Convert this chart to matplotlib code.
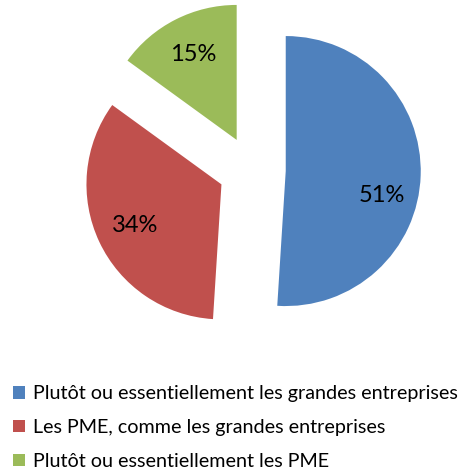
import matplotlib.pyplot as plt

labels = ['Plutôt ou essentiellement les grandes entreprises',
          'Les PME, comme les grandes entreprises',
          'Plutôt ou essentiellement les PME']
values = [51, 34, 15]
colors = ['#4F81BD', '#C0504D', '#9BBB59']

plt.rcParams['font.family'] = ['Lato', 'DejaVu Sans']

W, H = 462, 470
R = 135.0          # pie radius in px
CX, CY = 252, 170  # pie centre in px (from top-left)

fig = plt.figure(figsize=(W / 100, H / 100), dpi=100)
ax = fig.add_axes([0, 0, 1, 1])
wedges, texts, autotexts = ax.pie(values, colors=colors, startangle=90, counterclock=False,
                                  explode=[0.25] * 3, radius=1, pctdistance=0.71,
                                  autopct='%d%%', textprops={'fontsize': 17, 'color': 'black'})
# Excel-like label nudge for the big slice
x, y = autotexts[0].get_position()
autotexts[0].set_position((x, y - 0.16))

ax.set_xlim(-CX / R, (W - CX) / R)
ax.set_ylim(-(H - CY) / R, CY / R)
ax.set_aspect('equal')
ax.axis('off')

leg = fig.legend(wedges, labels, loc='upper left', bbox_to_anchor=(0.012, 0.197),
                 frameon=False, fontsize=14.2, handlelength=0.6, handleheight=0.6,
                 handletextpad=0.4, labelspacing=0.85, borderaxespad=0)

fig.savefig('out.png', dpi=100)
